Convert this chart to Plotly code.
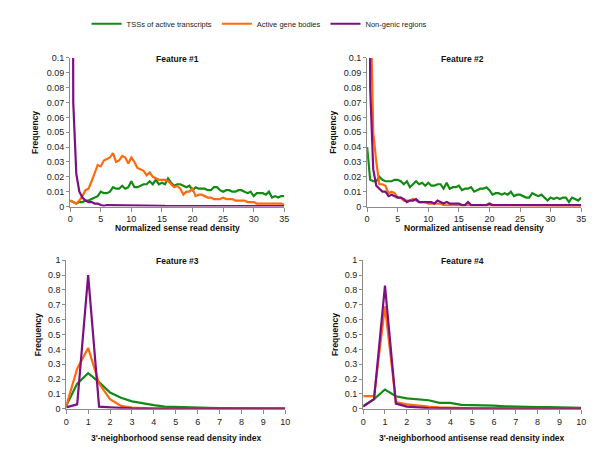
import plotly.graph_objects as go

# x grid for feature #1 / #2 (read density, step 0.5) and #3 / #4 (index, step 0.5)
x_density = [i * 0.5 for i in range(71)]
x_index = [i * 0.5 for i in range(21)]

series_names = ["TSSs of active transcripts", "Active gene bodies", "Non-genic regions"]
series_colors = ["#138a13", "#ff6a0d", "#7d0f82"]

# Feature #1 - normalized sense read density
f1_tss = [0.004, 0.003, 0.002, 0.003, 0.003, 0.004, 0.004, 0.005, 0.006, 0.007,
          0.010, 0.009, 0.009, 0.010, 0.013, 0.012, 0.012, 0.014, 0.012, 0.013,
          0.017, 0.013, 0.013, 0.014, 0.015, 0.015, 0.017, 0.015, 0.018, 0.015,
          0.016, 0.015, 0.019, 0.016, 0.014, 0.015, 0.015, 0.014, 0.013, 0.014,
          0.011, 0.013, 0.012, 0.012, 0.012, 0.011, 0.011, 0.013, 0.013, 0.011,
          0.010, 0.011, 0.011, 0.010, 0.010, 0.011, 0.011, 0.010, 0.009, 0.010,
          0.007, 0.009, 0.009, 0.009, 0.008, 0.010, 0.006, 0.007, 0.006, 0.007,
          0.007]
f1_gene = [0.004, 0.003, 0.002, 0.004, 0.007, 0.011, 0.012, 0.017, 0.022, 0.028,
           0.027, 0.031, 0.032, 0.033, 0.036, 0.030, 0.031, 0.034, 0.033, 0.029,
           0.033, 0.030, 0.026, 0.025, 0.024, 0.021, 0.023, 0.020, 0.019, 0.018,
           0.018, 0.018, 0.017, 0.015, 0.013, 0.014, 0.012, 0.008, 0.010, 0.010,
           0.012, 0.007, 0.008, 0.008, 0.007, 0.006, 0.006, 0.005, 0.005, 0.005,
           0.006, 0.005, 0.005, 0.005, 0.004, 0.004, 0.004, 0.004, 0.003, 0.003,
           0.003, 0.002, 0.002, 0.002, 0.002, 0.002, 0.002, 0.002, 0.002, 0.002,
           0.001]
f1_nongenic = [1.0, 0.07, 0.022, 0.010, 0.006, 0.004, 0.003, 0.003, 0.002, 0.002,
               0.001, 0.0005, 0.001, 0.001, 0.001, 0.001, 0.0005, 0.0005, 0.0005, 0.0005,
               0.0007, 0.0005, 0.0005, 0.0005, 0.0005, 0.0005, 0.0005, 0.0005, 0.0005, 0.0005,
               0.0005, 0.0004, 0.0004, 0.0004, 0.0003, 0.0003, 0.0003, 0.0003, 0.0003, 0.0003,
               0.0003, 0.0003, 0.0003, 0.0003, 0.0003, 0.0003, 0.0003, 0.0003, 0.0003, 0.0003,
               0.0003, 0.0003, 0.0003, 0.0003, 0.0003, 0.0003, 0.0002, 0.0002, 0.0002, 0.0002,
               0.0002, 0.0002, 0.0002, 0.0002, 0.0002, 0.0002, 0.0002, 0.0002, 0.0002, 0.0002,
               0.0002]

# Feature #2 - normalized antisense read density
f2_tss = [0.040, 0.018, 0.017, 0.017, 0.020, 0.018, 0.017, 0.017, 0.017, 0.018,
          0.018, 0.017, 0.015, 0.017, 0.013, 0.015, 0.017, 0.015, 0.016, 0.014,
          0.016, 0.014, 0.014, 0.015, 0.015, 0.012, 0.016, 0.012, 0.013, 0.013,
          0.014, 0.011, 0.012, 0.012, 0.013, 0.010, 0.011, 0.012, 0.012, 0.013,
          0.011, 0.008, 0.009, 0.009, 0.008, 0.009, 0.008, 0.010, 0.007, 0.008,
          0.008, 0.007, 0.006, 0.006, 0.009, 0.008, 0.007, 0.008, 0.006, 0.004,
          0.006, 0.005, 0.006, 0.005, 0.006, 0.006, 0.003, 0.006, 0.005, 0.004,
          0.006]
f2_gene = [0.9, 0.15, 0.05, 0.03, 0.015, 0.015, 0.014, 0.009, 0.010, 0.009,
           0.006, 0.006, 0.004, 0.004, 0.004, 0.005, 0.004, 0.003, 0.003, 0.003,
           0.002, 0.002, 0.002, 0.002, 0.002, 0.001, 0.001, 0.001, 0.001, 0.001,
           0.001, 0.001, 0.001, 0.001, 0.001, 0.001, 0.001, 0.001, 0.001, 0.001,
           0.001, 0.0005, 0.0005, 0.0005, 0.0005, 0.0005, 0.0005, 0.0005, 0.0005, 0.0005,
           0.0005, 0.0005, 0.0005, 0.0005, 0.0005, 0.0005, 0.0005, 0.0005, 0.0005, 0.0005,
           0.0004, 0.0004, 0.0004, 0.0004, 0.0004, 0.0003, 0.0003, 0.0003, 0.0003, 0.0003,
           0.0003]
f2_nongenic = [0.8, 0.08, 0.025, 0.014, 0.012, 0.010, 0.010, 0.007, 0.008, 0.007,
               0.006, 0.006, 0.005, 0.003, 0.004, 0.004, 0.005, 0.003, 0.003, 0.003,
               0.003, 0.003, 0.002, 0.004, 0.003, 0.002, 0.003, 0.002, 0.002, 0.002,
               0.002, 0.001, 0.001, 0.003, 0.001, 0.001, 0.001, 0.001, 0.001, 0.001,
               0.002, 0.001, 0.001, 0.001, 0.001, 0.001, 0.001, 0.001, 0.001, 0.001,
               0.001, 0.001, 0.001, 0.001, 0.001, 0.001, 0.0005, 0.0005, 0.001, 0.001,
               0.001, 0.001, 0.0005, 0.0005, 0.0005, 0.0005, 0.0005, 0.0005, 0.0005, 0.0005,
               0.001]

# Feature #3 - 3'-neighborhood sense read density index
f3_tss = [0.02, 0.17, 0.24, 0.18, 0.11, 0.075, 0.05, 0.035, 0.025, 0.015,
          0.012, 0.010, 0.008, 0.006, 0.005, 0.004, 0.003, 0.003, 0.002, 0.002, 0.002]
f3_gene = [0.02, 0.27, 0.41, 0.17, 0.065, 0.02, 0.008, 0.004, 0.002, 0.001,
           0.001, 0.001, 0.001, 0.001, 0.001, 0.001, 0.001, 0.001, 0.001, 0.001, 0.001]
f3_nongenic = [0.01, 0.03, 0.90, 0.015, 0.010, 0.005, 0.003, 0.002, 0.001, 0.001,
               0.001, 0.001, 0.001, 0.001, 0.001, 0.001, 0.001, 0.001, 0.001, 0.001, 0.001]

# Feature #4 - 3'-neighborhood antisense read density index
f4_tss = [0.02, 0.065, 0.13, 0.085, 0.07, 0.063, 0.058, 0.04, 0.04, 0.027,
          0.027, 0.025, 0.022, 0.017, 0.017, 0.013, 0.012, 0.011, 0.010, 0.008, 0.007]
f4_gene = [0.085, 0.085, 0.69, 0.045, 0.030, 0.020, 0.015, 0.010, 0.007, 0.005,
           0.004, 0.004, 0.003, 0.003, 0.003, 0.003, 0.002, 0.002, 0.002, 0.002, 0.002]
f4_nongenic = [0.015, 0.065, 0.83, 0.035, 0.015, 0.008, 0.005, 0.004, 0.003, 0.003,
               0.002, 0.002, 0.002, 0.002, 0.002, 0.002, 0.002, 0.002, 0.002, 0.002, 0.002]

panels = [
    (x_density, [f1_tss, f1_gene, f1_nongenic]),
    (x_density, [f2_tss, f2_gene, f2_nongenic]),
    (x_index, [f3_tss, f3_gene, f3_nongenic]),
    (x_index, [f4_tss, f4_gene, f4_nongenic]),
]
titles = ["Feature #1", "Feature #2", "Feature #3", "Feature #4"]
xtitles = ["Normalized sense read density", "Normalized antisense read density",
           "3'-neighborhood sense read density index",
           "3'-neighborhood antisense read density index"]

# the page body has an 8px margin, so the figure is 8px smaller and shifted
OFF = 8
W, H = 600 - OFF, 450 - OFF
# plot areas in window pixels: (left, right, top, bottom)
boxes = [(68, 285, 54, 206), (369, 586, 54, 206), (64, 286, 261, 413), (365, 586, 261, 413)]
title_x = [177, 466, 177, 466]
freq_x = [33, 335, 35, 336]


def px(v):
    return (v - OFF) / W


def py(v):
    return 1 - (v - OFF) / H


fig = go.Figure()
FONT = "Liberation Sans, Arial, sans-serif"
ax_col = "#8c8c8c"

for k, (xs, ys) in enumerate(panels):
    n = "" if k == 0 else str(k + 1)
    for j, y in enumerate(ys):
        fig.add_trace(go.Scatter(
            x=xs, y=y, mode="lines",
            line=dict(color=series_colors[j], width=2.2),
            name=series_names[j], showlegend=(k == 0),
            xaxis="x" + n, yaxis="y" + n,
        ))
    l, r, t, b = boxes[k]
    if k < 2:
        xr, xdt, yr, ydt = [0, 35], 5, [0, 0.1], 0.01
    else:
        xr, xdt, yr, ydt = [0, 10], 1, [0, 1], 0.1
    fig.layout["xaxis" + n] = dict(
        domain=[px(l), px(r)], anchor="y" + n, range=xr, dtick=xdt, tick0=0,
        showgrid=False, zeroline=False, showline=True, linecolor=ax_col,
        ticks="outside", ticklen=4, tickcolor=ax_col,
        tickfont=dict(size=9, color="#222"),
    )
    fig.layout["yaxis" + n] = dict(
        domain=[py(b), py(t)], anchor="x" + n, range=yr, dtick=ydt, tick0=0,
        showgrid=False, zeroline=False, showline=True, linecolor=ax_col,
        ticks="outside", ticklen=3, tickcolor=ax_col,
        tickfont=dict(size=9, color="#222"),
    )
    fig.add_annotation(text="<b>" + titles[k] + "</b>", x=px(title_x[k]), y=py(t + 1),
                       xref="paper", yref="paper", showarrow=False,
                       font=dict(size=8.5, color="#111"), xanchor="center", yanchor="middle")
    fig.add_annotation(text="<b>" + xtitles[k] + "</b>", x=px((l + r) / 2),
                       y=py(b + (22 if k < 2 else 30)), xref="paper", yref="paper",
                       showarrow=False, font=dict(size=8.5, color="#111"),
                       xanchor="center", yanchor="middle")
    fig.add_annotation(text="<b>Frequency</b>", x=px(freq_x[k]), y=py((t + b) / 2),
                       xref="paper", yref="paper", showarrow=False, textangle=-90,
                       font=dict(size=8.5, color="#111"), xanchor="center", yanchor="middle")

fig.update_layout(
    width=W, height=H,
    margin=dict(l=0, r=0, t=0, b=0),
    paper_bgcolor="white", plot_bgcolor="white",
    font=dict(family=FONT, color="#222"),
    legend=dict(orientation="h", x=px(260), xanchor="center", y=py(19), yanchor="middle",
                font=dict(size=7.5), itemwidth=30, bgcolor="rgba(0,0,0,0)"),
)

fig.write_html("out.html")
